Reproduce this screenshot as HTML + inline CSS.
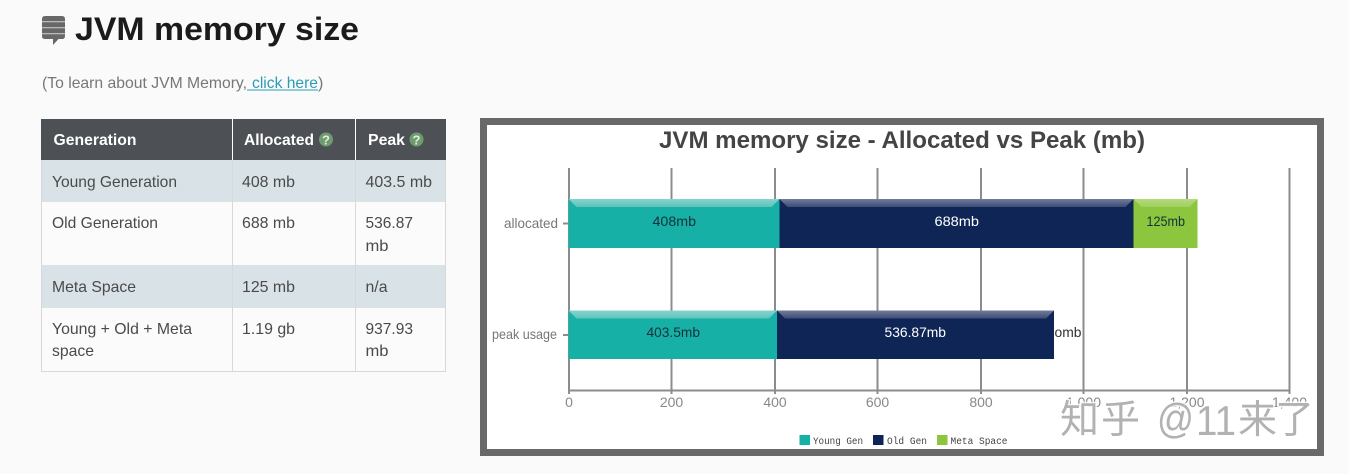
<!DOCTYPE html>
<html><head><meta charset="utf-8"><style>
html,body{margin:0;padding:0;background:#fafafa;width:1349px;height:474px;overflow:hidden}
svg{display:block}
.s{font-family:"Liberation Sans",sans-serif}
.t{font-size:16px;fill:#4a4a4a}
.th{font-size:16px;font-weight:bold;fill:#fff}
.al{font-size:14px;fill:#888;text-anchor:middle}
.yl{font-size:14px;fill:#777}
.bl{font-size:14px;fill:#14323a}
.bw{font-size:14px;fill:#fff}
.lg{font-family:"Liberation Mono",monospace;font-size:10px;fill:#444}
.wm{font-family:"Noto Sans CJK SC",sans-serif;font-size:39px}
.wl{font-family:"Liberation Sans",sans-serif;font-size:42px}
.ws{fill:#fff;stroke:#fff;stroke-width:3;stroke-opacity:.85}
.wf{fill:#b2b2b2}
</style></head><body>
<svg width="1349" height="474" viewBox="0 0 1349 474" xmlns="http://www.w3.org/2000/svg" class="s">
<defs>
<linearGradient id="gt" x1="0" y1="0" x2="0" y2="1"><stop offset="0" stop-color="#86d4cd"/><stop offset="1" stop-color="#5cc4bb"/></linearGradient>
<linearGradient id="gn" x1="0" y1="0" x2="0" y2="1"><stop offset="0" stop-color="#727d9b"/><stop offset="1" stop-color="#3d4b75"/></linearGradient>
<linearGradient id="gg" x1="0" y1="0" x2="0" y2="1"><stop offset="0" stop-color="#b3da7c"/><stop offset="1" stop-color="#a0d05e"/></linearGradient>
</defs>
<rect width="1349" height="474" fill="#fafafa"/>

<!-- heading icon -->
<path d="M45 16H62Q65 16 65 19V36Q65 39 62 39H58.500L53 45V39H45Q42 39 42 36V19Q42 16 45 16Z" fill="#686868"/>
<rect x="42" y="21" width="23" height="1.300" fill="#b8b8b8"/>
<rect x="42" y="27" width="23" height="1.300" fill="#b8b8b8"/>
<rect x="42" y="33" width="23" height="1.300" fill="#b8b8b8"/>
<text x="75" y="40" font-size="32" font-weight="bold" fill="#1b1b1b" textLength="284" lengthAdjust="spacingAndGlyphs">JVM memory size</text>
<text x="42" y="88" font-size="16" fill="#777" textLength="205" lengthAdjust="spacingAndGlyphs">(To learn about JVM Memory,</text>
<text x="252" y="88" font-size="16" fill="#2a9db5" textLength="66" lengthAdjust="spacingAndGlyphs">click here</text>
<rect x="247" y="89.500" width="71" height="1" fill="#2a9db5"/>
<text x="318" y="88" font-size="16" fill="#777">)</text>

<!-- table -->
<rect x="41.500" y="160" width="404" height="211.500" fill="#fbfbfb"/>
<rect x="41.500" y="160" width="404" height="42" fill="#d9e2e7"/>
<rect x="41.500" y="265" width="404" height="43" fill="#d9e2e7"/>
<path d="M41.500 160V371.500H445.500V160M232.500 160V371.500M355.500 160V371.500" fill="none" stroke="#d8d8d8" stroke-width="1"/>
<rect x="41" y="119" width="405" height="41" fill="#4d5155"/>
<rect x="232" y="119" width="1" height="41" fill="#fff"/>
<rect x="355" y="119" width="1" height="41" fill="#fff"/>
<text class="th" x="53.500" y="145" textLength="83" lengthAdjust="spacingAndGlyphs">Generation</text>
<text class="th" x="244" y="145" textLength="70" lengthAdjust="spacingAndGlyphs">Allocated</text>
<circle cx="326" cy="139.500" r="7" fill="#6e9c6e"/>
<text x="326" y="144.500" font-size="13" font-weight="bold" fill="#e4ece4" text-anchor="middle">?</text>
<text class="th" x="368" y="145" textLength="37" lengthAdjust="spacingAndGlyphs">Peak</text>
<circle cx="416.500" cy="139.500" r="7" fill="#6e9c6e"/>
<text x="416.500" y="144.500" font-size="13" font-weight="bold" fill="#e4ece4" text-anchor="middle">?</text>

<text class="t" x="52" y="187" textLength="125" lengthAdjust="spacingAndGlyphs">Young Generation</text>
<text class="t" x="242" y="187" textLength="53" lengthAdjust="spacingAndGlyphs">408 mb</text>
<text class="t" x="365.500" y="187" textLength="66.500" lengthAdjust="spacingAndGlyphs">403.5 mb</text>
<text class="t" x="52" y="228" textLength="106" lengthAdjust="spacingAndGlyphs">Old Generation</text>
<text class="t" x="242" y="228" textLength="53" lengthAdjust="spacingAndGlyphs">688 mb</text>
<text class="t" x="365.500" y="228" textLength="47.500" lengthAdjust="spacingAndGlyphs">536.87</text>
<text class="t" x="365.500" y="251" textLength="23" lengthAdjust="spacingAndGlyphs">mb</text>
<text class="t" x="52" y="292" textLength="84" lengthAdjust="spacingAndGlyphs">Meta Space</text>
<text class="t" x="242" y="292" textLength="53" lengthAdjust="spacingAndGlyphs">125 mb</text>
<text class="t" x="365.500" y="292" textLength="22" lengthAdjust="spacingAndGlyphs">n/a</text>
<text class="t" x="52" y="334" textLength="140" lengthAdjust="spacingAndGlyphs">Young + Old + Meta</text>
<text class="t" x="52" y="356" textLength="42" lengthAdjust="spacingAndGlyphs">space</text>
<text class="t" x="242" y="334" textLength="53" lengthAdjust="spacingAndGlyphs">1.19 gb</text>
<text class="t" x="365.500" y="334" textLength="47.500" lengthAdjust="spacingAndGlyphs">937.93</text>
<text class="t" x="365.500" y="356" textLength="23" lengthAdjust="spacingAndGlyphs">mb</text>

<!-- chart frame -->
<rect x="480" y="118" width="844" height="338" fill="#696969"/>
<rect x="487" y="125" width="830" height="324" fill="#fff"/>
<text x="659" y="148" font-size="24" font-weight="bold" fill="#444" textLength="486" lengthAdjust="spacingAndGlyphs">JVM memory size - Allocated vs Peak (mb)</text>

<!-- grid -->
<g stroke="#8c8c8c" stroke-width="2" fill="none">
<path d="M569 168V394M671.500 168V394M775 168V394M877.500 168V394M981 168V394M1083.500 168V394M1187 168V394M1289.500 168V394"/>
<path d="M569 390.500H1290.500"/>
<path d="M563 223.500H569M563 335H569"/>
</g>

<!-- allocated bars -->
<rect x="568.500" y="199" width="211" height="49" fill="#17b0a7"/>
<path d="M568.500 199H779.500L771.500 207H576.500Z" fill="url(#gt)"/>
<rect x="779.500" y="199" width="354" height="49" fill="#0f2555"/>
<path d="M779.500 199H1133.500L1125.500 207H787.500Z" fill="url(#gn)"/>
<rect x="1133.500" y="199" width="64" height="49" fill="#8cc63e"/>
<path d="M1133.500 199H1197.500L1189.500 207H1141.500Z" fill="url(#gg)"/>
<!-- peak bars -->
<rect x="568.500" y="310.500" width="208.500" height="48.500" fill="#17b0a7"/>
<path d="M568.500 310.500H777L769 318.500H576.500Z" fill="url(#gt)"/>
<rect x="777" y="310.500" width="277" height="48.500" fill="#0f2555"/>
<path d="M777 310.500H1054L1046 318.500H785Z" fill="url(#gn)"/>

<text class="yl" x="504" y="228" textLength="54" lengthAdjust="spacingAndGlyphs">allocated</text>
<text class="yl" x="492" y="339" textLength="65" lengthAdjust="spacingAndGlyphs">peak usage</text>
<text class="bl" x="652.500" y="226" textLength="43.500" lengthAdjust="spacingAndGlyphs">408mb</text>
<text class="bw" x="934.500" y="226" textLength="44.500" lengthAdjust="spacingAndGlyphs">688mb</text>
<text class="bl" x="1146.500" y="226" textLength="38.500" lengthAdjust="spacingAndGlyphs">125mb</text>
<text class="bl" x="646.500" y="337" textLength="53.500" lengthAdjust="spacingAndGlyphs">403.5mb</text>
<text class="bw" x="884.500" y="337" textLength="61.500" lengthAdjust="spacingAndGlyphs">536.87mb</text>
<text x="1054.500" y="337" font-size="14" fill="#333" textLength="27" lengthAdjust="spacingAndGlyphs">omb</text>

<text class="al" x="569" y="407">0</text>
<text class="al" x="671.500" y="407">200</text>
<text class="al" x="775" y="407">400</text>
<text class="al" x="877.500" y="407">600</text>
<text class="al" x="981" y="407">800</text>
<text class="al" x="1083.500" y="407">1,000</text>
<text class="al" x="1187" y="407">1,200</text>
<text class="al" x="1289.500" y="407">1,400</text>

<!-- legend -->
<rect x="799.500" y="435" width="10.500" height="10" fill="#17b0a7"/>
<text class="lg" x="813" y="444" textLength="50" lengthAdjust="spacingAndGlyphs">Young Gen</text>
<rect x="873" y="435" width="10.500" height="10" fill="#0f2555"/>
<text class="lg" x="887" y="444" textLength="40" lengthAdjust="spacingAndGlyphs">Old Gen</text>
<rect x="937" y="435" width="10.500" height="10" fill="#8cc63e"/>
<text class="lg" x="950.500" y="444" textLength="57" lengthAdjust="spacingAndGlyphs">Meta Space</text>

<!-- watermark -->
<g class="ws">
<text class="wm" x="1060" y="433">知</text><text class="wm" x="1101" y="433">乎</text>
<text class="wl" x="1157" y="433" textLength="37" lengthAdjust="spacingAndGlyphs" font-size="34">@</text>
<text class="wl" x="1196" y="435" textLength="40" lengthAdjust="spacingAndGlyphs">11</text>
<text class="wm" x="1238" y="433">来</text><text class="wm" x="1275" y="433">了</text>
</g>
<g class="wf">
<text class="wm" x="1060" y="433">知</text><text class="wm" x="1101" y="433">乎</text>
<text class="wl" x="1157" y="433" textLength="37" lengthAdjust="spacingAndGlyphs" font-size="34">@</text>
<text class="wl" x="1196" y="435" textLength="40" lengthAdjust="spacingAndGlyphs">11</text>
<text class="wm" x="1238" y="433">来</text><text class="wm" x="1275" y="433">了</text>
</g>
</svg>
</body></html>
